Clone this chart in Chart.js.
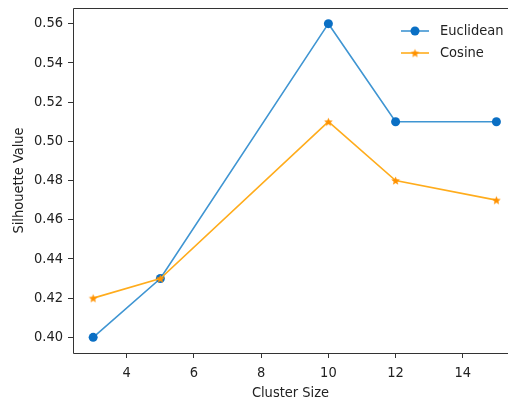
<!DOCTYPE html>
<html>
<head>
<meta charset="utf-8">
<script src="https://cdn.jsdelivr.net/npm/chart.js@4/dist/chart.umd.min.js"></script>
<style>
  html, body { margin: 0; padding: 0; background: #fff; overflow: hidden; }
  #wrap { width: 508px; height: 403px; }
</style>
</head>
<body>
<div id="wrap"><canvas id="chart" width="508" height="403"></canvas></div>
<script>
const clusterSizes = [3, 5, 10, 12, 15];
const euclidean = [0.40, 0.43, 0.56, 0.51, 0.51];
const cosine = [0.42, 0.43, 0.51, 0.48, 0.47];
const xTicks = [4, 6, 8, 10, 12, 14];
const yTicks = [0.40, 0.42, 0.44, 0.46, 0.48, 0.50, 0.52, 0.54, 0.56];
const seriesNames = ['Euclidean', 'Cosine'];

const FONT = '"DejaVu Sans Condensed", "DejaVu Sans", sans-serif';
const FSIZE = 14.5;
const blueLine = '#3f95d2';
const bluePoint = '#0a6fc4';
const orangeLine = '#ffac1c';
const orangePoint = '#ff9200';

// filled five point star, like matplotlib's '*'
function makeStar(r, color) {
  const size = Math.ceil(r * 2 + 2);
  const c = document.createElement('canvas');
  c.width = size;
  c.height = size;
  const g = c.getContext('2d');
  const cx = size / 2, cy = size / 2 + 0.5;
  g.beginPath();
  for (let i = 0; i < 10; i++) {
    const rad = i % 2 === 0 ? r : r * 0.45;
    const a = -Math.PI / 2 + i * Math.PI / 5;
    const px = cx + rad * Math.cos(a);
    const py = cy + rad * Math.sin(a);
    if (i === 0) g.moveTo(px, py); else g.lineTo(px, py);
  }
  g.closePath();
  g.fillStyle = color;
  g.fill();
  return c;
}
const star = makeStar(4.5, orangePoint);

// no padding for edge labels, so the plot box is where we put it
function noPad(s) {
  s.paddingTop = 0;
  s.paddingBottom = 0;
  s.paddingLeft = 0;
  s.paddingRight = 0;
}

// the picture is cut on the right, so only top, left and bottom spines show
const framePlugin = {
  id: 'frame',
  afterDatasetsDraw(chart) {
    const { ctx, chartArea: a } = chart;
    const l = Math.round(a.left) + 0.5, t = Math.round(a.top) + 0.5, b = Math.round(a.bottom) + 0.5;
    ctx.save();
    ctx.strokeStyle = '#333';
    ctx.lineWidth = 1;
    ctx.beginPath();
    ctx.moveTo(a.right, t);
    ctx.lineTo(l, t);
    ctx.lineTo(l, b);
    ctx.lineTo(a.right, b);
    ctx.stroke();
    ctx.restore();
  }
};

const legendPlugin = {
  id: 'mplLegend',
  afterDraw(chart) {
    const ctx = chart.ctx;
    const entries = [
      { name: seriesNames[0], line: blueLine, point: { pointStyle: 'circle', radius: 4.5, borderWidth: 0 }, fill: bluePoint, y: 31 },
      { name: seriesNames[1], line: orangeLine, point: { pointStyle: star, radius: 4.5, borderWidth: 0 }, fill: orangePoint, y: 53 }
    ];
    ctx.save();
    entries.forEach(e => {
      ctx.strokeStyle = e.line;
      ctx.lineWidth = 1.6;
      ctx.beginPath();
      ctx.moveTo(401, e.y);
      ctx.lineTo(429, e.y);
      ctx.stroke();
      ctx.fillStyle = e.fill;
      ctx.strokeStyle = e.fill;
      Chart.helpers.drawPoint(ctx, e.point, 415, e.y);
      ctx.fillStyle = '#222';
      ctx.font = FSIZE + 'px ' + FONT;
      ctx.textBaseline = 'middle';
      ctx.textAlign = 'left';
      ctx.fillText(e.name, 440, e.y);
    });
    ctx.restore();
  }
};

new Chart(document.getElementById('chart'), {
  type: 'line',
  data: {
    datasets: [
      {
        label: seriesNames[0],
        data: clusterSizes.map((x, i) => ({ x: x, y: euclidean[i] })),
        borderColor: blueLine,
        backgroundColor: bluePoint,
        pointBackgroundColor: bluePoint,
        pointBorderColor: bluePoint,
        pointBorderWidth: 0,
        pointRadius: 4.5,
        borderWidth: 1.6,
        tension: 0,
        order: 1
      },
      {
        label: seriesNames[1],
        data: clusterSizes.map((x, i) => ({ x: x, y: cosine[i] })),
        borderColor: orangeLine,
        backgroundColor: orangePoint,
        pointStyle: star,
        pointRadius: 4.5,
        borderWidth: 1.6,
        tension: 0,
        order: 0
      }
    ]
  },
  options: {
    responsive: false,
    animation: false,
    layout: { autoPadding: false, padding: { top: 8, right: 0, left: 0, bottom: 0 } },
    plugins: { legend: { display: false }, tooltip: { enabled: false } },
    scales: {
      x: {
        type: 'linear',
        min: 2.4,
        max: 15.345,
        afterBuildTicks: s => { s.ticks = xTicks.map(v => ({ value: v })); },
        afterFit: s => { s.height = 50; noPad(s); },
        border: { display: false },
        grid: { drawOnChartArea: false, tickLength: 5, color: '#333', tickWidth: 1 },
        ticks: { color: '#222', padding: 7, maxRotation: 0, font: { family: FONT, size: FSIZE } },
        title: { display: true, text: 'Cluster Size', color: '#222', padding: { top: 0, bottom: 1 }, font: { family: FONT, size: FSIZE } }
      },
      y: {
        min: 0.392,
        max: 0.568,
        afterBuildTicks: s => { s.ticks = yTicks.map(v => ({ value: v })); },
        afterFit: s => { s.width = 73; noPad(s); },
        border: { display: false },
        grid: { drawOnChartArea: false, tickLength: 5, color: '#333', tickWidth: 1 },
        ticks: { color: '#222', padding: 5, font: { family: FONT, size: FSIZE }, callback: v => v.toFixed(2) },
        title: { display: true, text: 'Silhouette Value', color: '#222', padding: { top: 11, bottom: 0 }, font: { family: FONT, size: FSIZE } }
      }
    }
  },
  plugins: [framePlugin, legendPlugin]
});
</script>
</body>
</html>
